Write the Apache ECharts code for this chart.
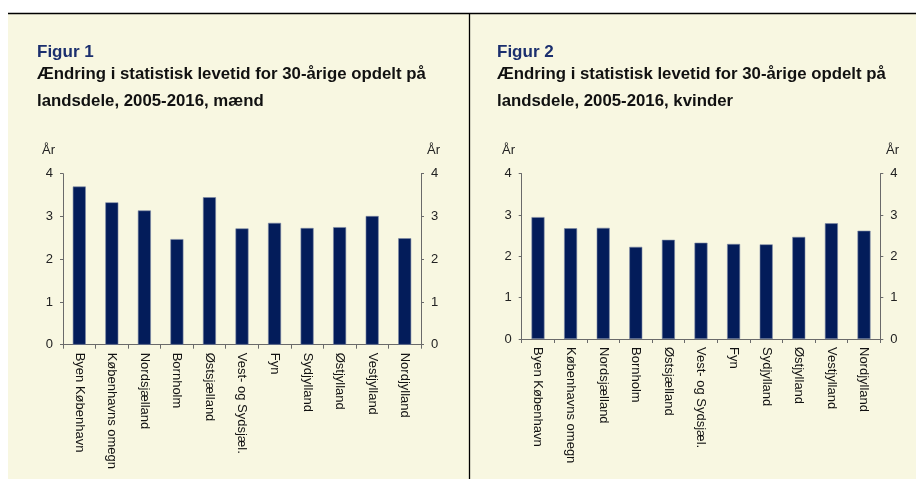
<!DOCTYPE html>
<html><head><meta charset="utf-8">
<script src="https://cdn.jsdelivr.net/npm/echarts@6/dist/echarts.min.js"></script>
<style>html,body{margin:0;padding:0;background:#fff}#c{width:916px;height:479px}</style>
</head><body><div id="c"></div>
<script>
var categories = ["Byen København","Københavns omegn","Nordsjælland","Bornholm","Østsjælland","Vest- og Sydsjæl.","Fyn","Sydjylland","Østjylland","Vestjylland","Nordjylland"];
var men = [3.70, 3.33, 3.14, 2.47, 3.45, 2.72, 2.85, 2.73, 2.75, 3.01, 2.49];
var women = [2.95, 2.68, 2.69, 2.23, 2.40, 2.33, 2.30, 2.29, 2.47, 2.80, 2.62];
var yTicks = [0, 1, 2, 3, 4];
var titles = ["Figur 1", "Figur 2"];
var subtitles = ["Ændring i statistisk levetid for 30-årige opdelt på\nlandsdele, 2005-2016, mænd",
                 "Ændring i statistisk levetid for 30-årige opdelt på\nlandsdele, 2005-2016, kvinder"];
var unit = "År";

var FONT = "Liberation Sans, Arial, sans-serif";
var NAVY = "#031c5a";
var AXIS = "#6a6a6a";
var chart = echarts.init(document.getElementById('c'), null, {renderer:'canvas'});

var grids = [
  {left:63, right:916-421, top:173.7, bottom:479-344.7},
  {left:521.7, right:916-880.3, top:173.7, bottom:479-339}
];

function yAx(gi, pos){
  return {type:'value', gridIndex:gi, position:pos, min:yTicks[0], max:yTicks[yTicks.length-1], interval:1,
    axisLine:{show:true, lineStyle:{color:AXIS, width:1}},
    axisTick:{show:true, length:3, lineStyle:{color:AXIS}},
    splitLine:{show:false},
    axisLabel:{color:'#222', fontFamily:FONT, fontSize:13, margin:10}};
}
function xAx(gi){
  return {type:'category', gridIndex:gi, data:categories, boundaryGap:true,
    axisLine:{show:true, onZero:false, lineStyle:{color:AXIS, width:1}},
    axisTick:{show:true, length:4, alignWithLabel:false, lineStyle:{color:AXIS}},
    axisLabel:{rotate:-90, interval:0, color:'#111', fontFamily:FONT, fontSize:13, margin:8}};
}

var graphics = [
  {type:'rect', shape:{x:8, y:13, width:908, height:466}, style:{fill:'#f8f7e1'}, z:-10},
  {type:'line', shape:{x1:8, y1:13.5, x2:916, y2:13.5}, style:{stroke:'#000', lineWidth:1.3}},
  {type:'line', shape:{x1:469.5, y1:13, x2:469.5, y2:479}, style:{stroke:'#000', lineWidth:1.3}}
];
var tx = [37, 497];
var unitL = [42, 502], unitR = [427, 886];
for (var i=0;i<2;i++){
  graphics.push({type:'text', left:tx[i], top:44, style:{text:titles[i], fill:'#1b2f6e', font:'bold 17px '+FONT}});
  graphics.push({type:'text', left:tx[i], top:61, style:{text:subtitles[i], fill:'#111', font:'bold 16.8px '+FONT, lineHeight:27}});
  graphics.push({type:'text', left:unitL[i], top:144, style:{text:unit, fill:'#222', font:'13px '+FONT}});
  graphics.push({type:'text', left:unitR[i], top:144, style:{text:unit, fill:'#222', font:'13px '+FONT}});
}

function barSeries(gi, data){
  return {type:'bar', xAxisIndex:gi, yAxisIndex:gi*2, data:data, barWidth:13,
    itemStyle:{color:NAVY, borderColor:'#7d8aa6', borderWidth:0.6}, silent:true};
}

chart.setOption({
  animation:false,
  backgroundColor:'#ffffff',
  grid:grids,
  xAxis:[xAx(0), xAx(1)],
  yAxis:[yAx(0,'left'), yAx(0,'right'), yAx(1,'left'), yAx(1,'right')],
  series:[barSeries(0, men), barSeries(1, women)],
  graphic:graphics
});
</script></body></html>
